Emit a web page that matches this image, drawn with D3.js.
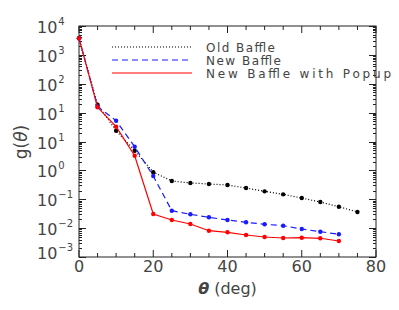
<!DOCTYPE html>
<html>
<head>
<meta charset="utf-8">
<script src="https://cdn.jsdelivr.net/npm/d3@7"></script>
<style>
  body { margin: 0; background: #fff; }
  text { font-family: "DejaVu Sans", sans-serif; fill: #444; }
</style>
</head>
<body>
<svg id="chart"></svg>
<script>
// angles (deg)
const theta = [0, 5, 10, 15, 20, 25, 30, 35, 40, 45, 50, 55, 60, 65, 70, 75];
const oldBaffle = [3750, 18.8, 2.37, 0.48, 0.0865, 0.0429, 0.0366, 0.0338, 0.0312, 0.0245, 0.0188, 0.0148, 0.0110, 0.00803, 0.00552, 0.00361];
const newBaffle = [3750, 16.3, 5.25, 0.66, 0.0638, 0.00401, 0.00301, 0.00237, 0.00191, 0.00159, 0.00136, 0.00121, 0.000933, 0.000752, 0.000611];
const newPopup = [3750, 15.3, 3.26, 0.322, 0.00308, 0.00191, 0.00139, 0.000814, 0.000716, 0.000578, 0.000493, 0.000455, 0.000466, 0.000445, 0.000358];

const xTicks = [0, 20, 40, 60, 80];
const yTickVals = [1e4, 1e3, 1e2, 1e1, 1e0, 1e-1, 1e-2, 1e-3, 1e-4];
const yTickExp = ["4", "3", "2", "1", "1", "0", "\u22121", "\u22122", "\u22123"]; // as printed on the original

const series = [
  {name: "Old Baffle", values: oldBaffle, color: "#000", dash: "1,2"},
  {name: "New Baffle", values: newBaffle, color: "#1a1aff", dash: "6,4"},
  {name: "New Baffle with Popup", values: newPopup, color: "#f00", dash: null}
];

const W = 399, H = 310;
const pLeft = 79, pRight = 376, pTop = 26, pBottom = 257;

const svg = d3.select("#chart").attr("width", W).attr("height", H);

const x = d3.scaleLinear().domain([0, 80]).range([pLeft, pRight]);
const y = d3.scaleLog().domain([1e-4, 1e4]).range([pBottom, pTop]);

// frame
svg.append("rect")
  .attr("x", pLeft).attr("y", pTop)
  .attr("width", pRight - pLeft).attr("height", pBottom - pTop)
  .attr("fill", "none").attr("stroke", "#222").attr("stroke-width", 1);

// x ticks, bottom and top
const xMinor = d3.range(0, 81, 5);
const tickG = svg.append("g").attr("stroke", "#222").attr("stroke-width", 1);
xMinor.forEach(v => {
  const len = v % 20 === 0 ? 7 : 4;
  tickG.append("line").attr("x1", x(v)).attr("x2", x(v)).attr("y1", pBottom).attr("y2", pBottom - len);
  tickG.append("line").attr("x1", x(v)).attr("x2", x(v)).attr("y1", pTop).attr("y2", pTop + len);
});

// y ticks, left and right
const yMinor = [];
for (let e = -4; e < 4; e++) for (let m = 1; m < 10; m++) yMinor.push(m * Math.pow(10, e));
yMinor.push(1e4);
yMinor.forEach(v => {
  const major = Math.abs(Math.log10(v) - Math.round(Math.log10(v))) < 1e-9;
  const len = major ? 7 : 3;
  const yy = Math.round(y(v)) + 0.5;
  tickG.append("line").attr("x1", pLeft).attr("x2", pLeft + len).attr("y1", yy).attr("y2", yy);
  tickG.append("line").attr("x1", pRight).attr("x2", pRight - len).attr("y1", yy).attr("y2", yy);
});

// x tick labels
svg.append("g").selectAll("text")
  .data(xTicks)
  .join("text")
    .attr("x", d => x(d))
    .attr("y", 272)
    .attr("text-anchor", "middle")
    .attr("font-size", 16)
    .text(d => d);

// y tick labels
const yl = svg.append("g").selectAll("text")
  .data(yTickVals)
  .join("text")
    .attr("x", 37)
    .attr("y", (d, i) => y(d) + 7 - (i === yTickVals.length - 1 ? 5 : 0))
    .attr("font-size", 16);
yl.append("tspan").text("10");
yl.append("tspan")
  .attr("dy", -8)
  .attr("dx", 1)
  .attr("font-size", 10)
  .text((d, i) => yTickExp[i]);

// axis titles
svg.append("text")
  .attr("x", x(40)).attr("y", 294)
  .attr("text-anchor", "middle")
  .attr("font-size", 16)
  .html('<tspan font-style="italic" font-weight="bold">\u03b8</tspan>  (deg)');

svg.append("text")
  .attr("transform", "translate(27,142) rotate(-90)")
  .attr("text-anchor", "middle")
  .attr("font-size", 17)
  .html('g(<tspan font-style="italic">\u03b8</tspan>)');

// lines and markers
const line = d3.line()
  .x((d, i) => x(theta[i]))
  .y(d => y(d));

series.forEach(s => {
  svg.append("path")
    .attr("d", line(s.values))
    .attr("fill", "none")
    .attr("stroke", s.color)
    .attr("stroke-width", 1.2)
    .attr("stroke-dasharray", s.dash);
  svg.append("g").selectAll("circle")
    .data(s.values)
    .join("circle")
      .attr("cx", (d, i) => x(theta[i]))
      .attr("cy", d => y(d))
      .attr("r", 2.2)
      .attr("fill", s.color);
});

// legend
const legY = [47, 60, 73];
const legWidths = [69, 75, 185];
series.forEach((s, i) => {
  svg.append("line")
    .attr("x1", 112).attr("x2", 192)
    .attr("y1", legY[i]).attr("y2", legY[i])
    .attr("stroke", s.color)
    .attr("stroke-width", 1.2)
    .attr("stroke-dasharray", s.dash);
  svg.append("text")
    .attr("x", 206).attr("y", legY[i] + 4.5)
    .attr("font-size", 12)
    .attr("textLength", legWidths[i])
    .attr("lengthAdjust", "spacing")
    .text(s.name);
});
</script>
</body>
</html>
